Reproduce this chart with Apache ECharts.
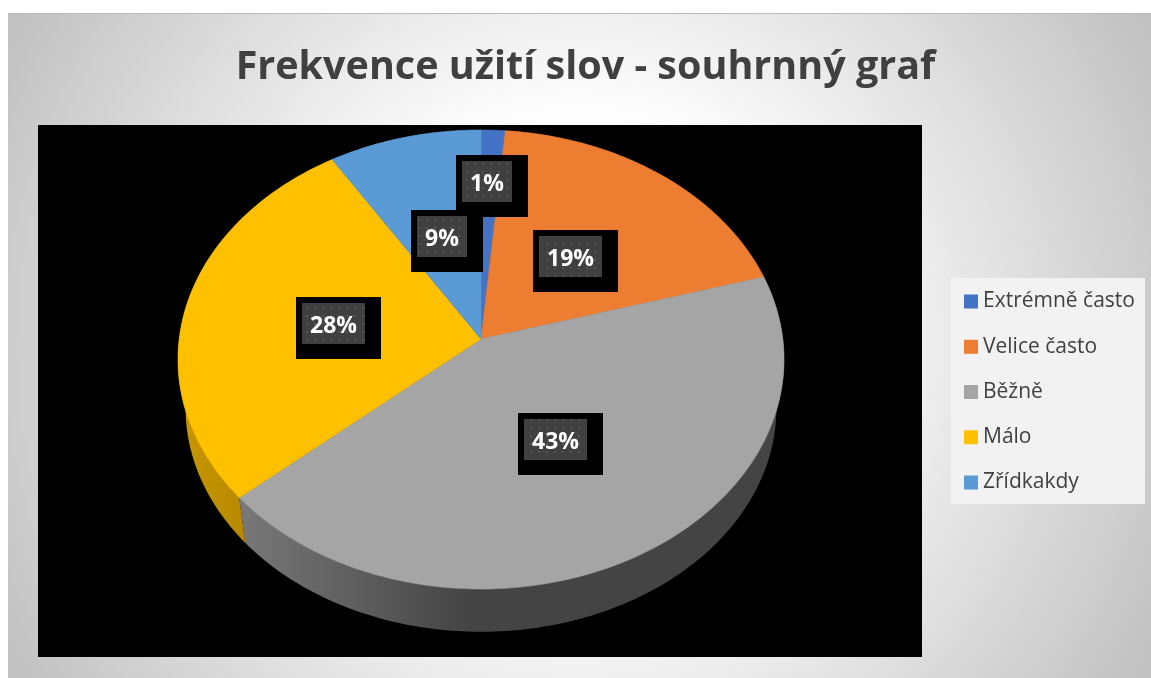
<!DOCTYPE html>
<html><head><meta charset="utf-8">
<style>html,body{margin:0;padding:0;background:#fff}#c{width:1151px;height:678px}</style>
<script src="https://cdn.jsdelivr.net/npm/echarts@6/dist/echarts.min.js"></script>
</head><body><div id="c"></div>
<script>
const titleText = 'Frekvence užití slov - souhrnný graf';
const categories = ['Extrémně často', 'Velice často', 'Běžně', 'Málo', 'Zřídkakdy'];
const shares = [1.4, 19.1, 43.1, 27.5, 8.9];
const colors = ['#4472C4', '#ED7D31', '#A5A5A5', '#FFC000', '#5B9BD5'];

// perspective disc layout
const HUB = [481, 339], BASE_HUB_Y = 388, BASE_SCALE = 0.975;
const AX = 301.8, AY = 227.7, PERSP = 0.0893;
const LABEL_RADIUS = [0.75, 0.5, 0.46, 0.51, 0.5];
const LABEL_NUDGE = [[-3.5, 2], [-3, 2.5], [6, 5], [4, 1], [1, 2.5]];
const total = shares.reduce((a, b) => a + b, 0);

function project(angle, r) {
  const u = Math.sin(angle) * r, v = Math.cos(angle) * r, w = 1 + PERSP * v;
  return [HUB[0] + AX * u / w, HUB[1] - AY * v / w];
}
function toBase(p) {
  return [HUB[0] + (p[0] - HUB[0]) * BASE_SCALE, BASE_HUB_Y + (p[1] - HUB[1]) * BASE_SCALE];
}
function shade(hex, f) {
  const n = parseInt(hex.slice(1), 16);
  const c = [n >> 16 & 255, n >> 8 & 255, n & 255].map(x => Math.round(x * f));
  return 'rgb(' + c.join(',') + ')';
}
const dotCanvas = document.createElement('canvas');
dotCanvas.width = 8; dotCanvas.height = 8;
(function () {
  const g = dotCanvas.getContext('2d');
  g.fillStyle = '#404040'; g.fillRect(0, 0, 8, 8);
  g.fillStyle = '#545454'; g.fillRect(2, 3, 2, 2);
})();

function sliceRenderer(i) {
  return function (params, api) {
    const value = api.value(0);
    const before = shares.slice(0, i).reduce((a, b) => a + b, 0);
    const a0 = before / total * Math.PI * 2;
    const a1 = (before + value) / total * Math.PI * 2;
    const rim = [];
    const steps = Math.max(8, Math.ceil((a1 - a0) * 60));
    for (let k = 0; k <= steps; k++) rim.push(project(a0 + (a1 - a0) * k / steps, 1));
    const wall = rim.concat(rim.slice().reverse().map(toBase));
    const base = colors[i];
    const mid = project((a0 + a1) / 2, LABEL_RADIUS[i]);
    const label = Math.round(value / total * 100) + '%';
    const innerW = label.length === 3 ? 63 : 50, innerH = 41;
    const ix = Math.round(mid[0] + LABEL_NUDGE[i][0] - innerW / 2), iy = Math.round(mid[1] + LABEL_NUDGE[i][1] - innerH / 2);
    return {
      type: 'group',
      children: [
        { type: 'polygon', z2: 1, shape: { points: wall }, style: {
            fill: { type: 'linear', x: 178, y: 0, x2: 784, y2: 0, global: true, colorStops: [
              { offset: 0, color: shade(base, 0.78) },
              { offset: 0.11, color: shade(base, 0.72) },
              { offset: 0.48, color: shade(base, 0.41) },
              { offset: 1, color: shade(base, 0.41) }
            ] } } },
        { type: 'polygon', z2: 5, shape: { points: [HUB].concat(rim) }, style: { fill: base, stroke: base, lineWidth: 0.6 } },
        { type: 'rect', z2: 10, shape: { x: ix - 6, y: iy - 6, width: innerW + 22, height: 62 }, style: { fill: '#000' } },
        { type: 'rect', z2: 11, shape: { x: ix, y: iy, width: innerW, height: innerH },
          style: { fill: { image: dotCanvas, repeat: 'repeat' } } },
        { type: 'text', z2: 12, style: { x: ix + innerW / 2, y: iy + innerH / 2 + 2.5, text: label, fill: '#fff',
            font: 'bold 23px "Open Sans"', align: 'center', verticalAlign: 'middle' } }
      ]
    };
  };
}

const chart = echarts.init(document.getElementById('c'), null, { renderer: 'canvas' });
chart.setOption({
  animation: false,
  title: { text: titleText, left: 580.5, top: 43, textAlign: 'center',
    textStyle: { fontFamily: 'Open Sans', fontWeight: 'bold', fontSize: 39.5, color: '#404040' } },
  legend: { orient: 'vertical', left: 964, top: 291, padding: 0, itemWidth: 14, itemHeight: 14, itemGap: 24.25,
    selectedMode: false, icon: 'rect', data: categories,
    textStyle: { fontFamily: 'Open Sans', fontSize: 21, lineHeight: 20, color: '#404040' } },
  graphic: [
    { type: 'rect', silent: true, z: -10, shape: { x: 8, y: 13, width: 1143, height: 665 }, style: {
        fill: { type: 'radial', x: 580, y: 346, r: 680, global: true, colorStops: [
          { offset: 0, color: '#ffffff' }, { offset: 0.33, color: '#ffffff' }, { offset: 1, color: '#bdbdbd' }
        ] } } },
    { type: 'rect', silent: true, z: -9, shape: { x: 8, y: 13, width: 1143, height: 1 }, style: { fill: '#bbbbbb' } },
    { type: 'rect', silent: true, z: -9, shape: { x: 38, y: 125, width: 884, height: 532 }, style: { fill: '#000000' } },
    { type: 'rect', silent: true, z: -9, shape: { x: 951, y: 278, width: 194, height: 226 }, style: { fill: '#f2f2f2' } }
  ],
  series: categories.map((name, i) => ({
    type: 'custom', name, coordinateSystem: 'none', silent: true,
    itemStyle: { color: colors[i] },
    data: [[shares[i]]],
    renderItem: sliceRenderer(i)
  }))
});
</script></body></html>
